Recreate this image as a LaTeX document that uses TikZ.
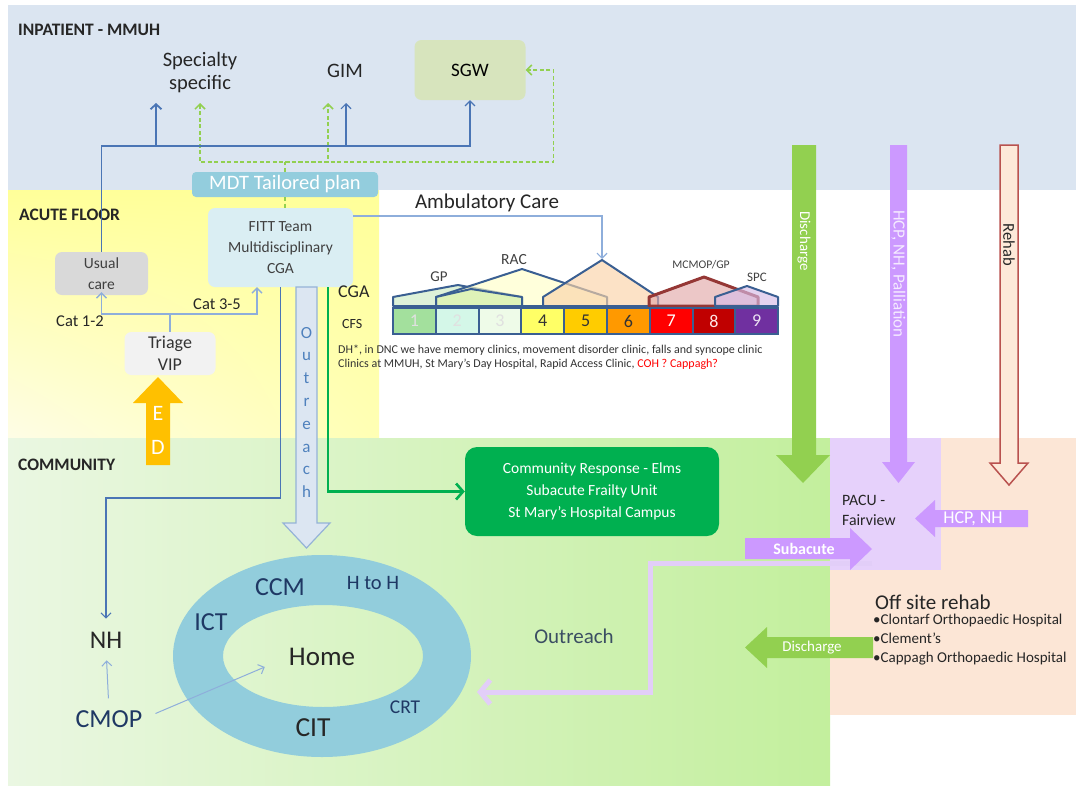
\documentclass[tikz,border=0pt]{standalone}
\usepackage{fontspec}
\setmainfont{Carlito}
\usetikzlibrary{calc, arrows.meta, shadings}

% colours of the levels and boxes
\definecolor{inpatbg}{HTML}{DBE5F1}
\definecolor{acutetop}{HTML}{FFFF99}
\definecolor{acutemid}{HTML}{FFFFB4}
\definecolor{acutepale}{HTML}{FEFDE6}
\definecolor{commleft}{HTML}{EAF7E2}
\definecolor{commright}{HTML}{C3EF9D}
\definecolor{pacubg}{HTML}{E6D1FB}
\definecolor{rehabbg}{HTML}{FCE6D6}
\definecolor{sgwfill}{HTML}{D7E4BD}
\definecolor{mdtfill}{HTML}{93CDDD}
\definecolor{fittfill}{HTML}{DAEEF3}
\definecolor{ucgrey}{HTML}{D9D9D9}
\definecolor{trifill}{HTML}{F2F2F2}
\definecolor{linkblue}{HTML}{4A75B5}
\definecolor{paleblue}{HTML}{8EAEDB}
\definecolor{dashgreen}{HTML}{92D050}
\definecolor{darkgreen}{HTML}{00B050}
\definecolor{edorange}{HTML}{FFC000}
\definecolor{lilac}{HTML}{CC99FF}
\definecolor{lilacpale}{HTML}{E2CEF8}
\definecolor{rehabred}{HTML}{B9524F}
\definecolor{rehabfill}{HTML}{FDE9D9}
\definecolor{outfill}{HTML}{DCE6F2}
\definecolor{outline}{HTML}{95B3D7}
\definecolor{outblue}{HTML}{4F81BD}
\definecolor{ringblue}{HTML}{92CDDC}
\definecolor{navy}{HTML}{1F3864}
\definecolor{slate}{HTML}{3B4E63}
\definecolor{cfsblue}{HTML}{3A5F92}
\definecolor{mcmopred}{HTML}{953735}
% clinical frailty scale
\definecolor{cfsa}{HTML}{A3E09D}
\definecolor{cfsb}{HTML}{D4F7E8}
\definecolor{cfsc}{HTML}{EEFBE8}
\definecolor{cfsd}{HTML}{FFFF66}
\definecolor{cfse}{HTML}{FFCC00}
\definecolor{cfsf}{HTML}{FF9900}
\definecolor{cfsg}{HTML}{FF0000}
\definecolor{cfsh}{HTML}{C00000}
\definecolor{cfsi}{HTML}{7030A0}
\definecolor{housegp}{HTML}{CDEBC4}
\definecolor{houserac}{HTML}{FFFFC8}
\definecolor{housegreen}{HTML}{D3F0AE}
\definecolor{houseamb}{HTML}{FAD3A8}
\definecolor{housemc}{HTML}{E2A9A9}
\definecolor{housespc}{HTML}{D6BBE6}

\newcommand{\fsz}[2]{\fontsize{#1}{#2}\selectfont}

\tikzset{
  hdr/.style={anchor=west, inner sep=0pt, font=\bfseries\fsz{17.5}{20}, text=black!85},
  lbl/.style={inner sep=0pt, text=black!85},
  rbox/.style={rounded corners=7pt, align=center, inner sep=0pt},
  cell/.style={draw=cfsblue, line width=2pt, minimum width=42.8pt, minimum height=26pt,
    inner sep=0pt, font=\fsz{18}{20}},
  house/.style={fill opacity=.65, line join=round},
  uclink/.style={draw=linkblue, line width=1.8pt, -{Straight Barb[length=5pt,width=11pt]}},
  bluelink/.style={draw=linkblue, line width=1.1pt, -{Straight Barb[length=5pt,width=10pt]}},
  palelink/.style={draw=paleblue, line width=1.3pt, -{Straight Barb[length=5pt,width=10pt]}},
  gdash/.style={draw=dashgreen, line width=1.5pt, dash pattern=on 4pt off 2.5pt},
  greenlink/.style={draw=darkgreen, line width=2.6pt, -{Straight Barb[length=7pt,width=16pt]}},
  lilaclink/.style={draw=lilacpale, line width=5pt, -{Straight Barb[length=10pt,width=24pt]}},
}

\begin{document}
\begin{tikzpicture}[x=1pt, y=-1pt, font=\fsz{14}{17}]
  \useasboundingbox (0,0) rectangle (1076,787);

  % the three levels
  \fill[inpatbg] (8,5) rectangle (1076,190);
  \shade[upper left=acutetop, upper right=acutetop, lower left=acutepale, lower right=acutemid]
    (8,190) rectangle (379,438);
  \shade[left color=commleft, right color=commright] (8,438) rectangle (830,785);
  \fill[pacubg] (830,438) rectangle (941,570);
  \fill[rehabbg] (941,438) rectangle (1076,570);
  \fill[rehabbg] (830,570) rectangle (1076,715);

  \node[hdr] (hinp) at (18,30) {INPATIENT - MMUH};
  \node[hdr] (hacu) at (19,215) {ACUTE FLOOR};
  \node[hdr] (hcom) at (18,465) {COMMUNITY};

  % inpatient wards
  \node[lbl, align=center, font=\fsz{20.5}{23}] (spec) at (200,73) {Specialty\\specific};
  \node[lbl, font=\fsz{20.5}{23}] (gim) at (345,71) {GIM};
  \node[rbox, fill=sgwfill, minimum width=111pt, minimum height=60pt, font=\fsz{19}{23}] (sgw) at (470,70) {SGW};

  \coordinate (jspec) at (156,146);
  \coordinate (tspec) at (156,103);
  \coordinate (tgim) at (346,103);
  \coordinate (gspec) at (200,103);
  \coordinate (ggim) at (328,103);
  \coordinate (jmdt) at (285,162);

  % dashed plan links
  \draw[gdash, {Straight Barb[length=5pt,width=10pt]}-{Straight Barb[length=5pt,width=10pt]}]
    (gspec) |- (ggim |- jmdt) -- (ggim);
  \draw[gdash, -{Straight Barb[length=5pt,width=10pt]}]
    (jmdt) -| ([xshift=28pt]sgw.east) -- (sgw.east);

  \node[rbox, rounded corners=4pt, fill=mdtfill, minimum width=186pt, minimum height=25pt,
    text=white, font=\fsz{20.5}{22}] (mdt) at (285,184.5) {MDT Tailored plan};
  \draw[gdash] (mdt.north) -- (jmdt);

  % acute floor
  \node[rbox, fill=fittfill, minimum width=145pt, minimum height=79pt, font=\fsz{15.5}{21},
    text=black!75] (fitt) at (280.5,247.5) {FITT Team\\Multidisciplinary\\CGA};
  \node[rbox, fill=ucgrey, minimum width=93pt, minimum height=43pt, font=\fsz{15.5}{21},
    text=black!75] (uc) at (101.5,273.5) {Usual\\care};
  \node[rbox, fill=trifill, minimum width=91pt, minimum height=43pt, font=\fsz{18}{22},
    text=black!80] (tri) at (170,353.5) {Triage\\VIP};
  \draw[gdash] (mdt.south) -- (mdt.south |- fitt.north);

  \draw[uclink] (uc.north) |- (jspec) -- (tspec);
  \draw[bluelink] (jspec) -| (tgim);
  \draw[bluelink] (jspec) -| (sgw.south);

  \coordinate (jtri) at (170,314);
  \draw[palelink, shorten >=-3pt] (tri.north) -- (jtri) -| (uc.south);
  \draw[palelink] (jtri) -| ([xshift=-23.5pt]fitt.south);
  \node[lbl, font=\fsz{16.5}{18}] (cat12) at (80,321) {Cat 1-2};
  \node[lbl, font=\fsz{16.5}{18}] (cat35) at (217,304) {Cat 3-5};

  % ED arrow
  \fill[edorange] (146,465) -- (146,403) -- (133,403) -- (158,377) -- (183,403) -- (170,403)
    -- (170,465) -- cycle;
  \node[text=white, font=\fsz{22}{24}] (ede) at (158,413) {E};
  \node[text=white, font=\fsz{22}{24}] (edd) at (158,447) {D};

  % ambulatory care
  \coordinate (hpeak) at (602,259);
  \node[lbl, font=\fsz{21}{23}] (amb) at (487,203) {Ambulatory Care};
  \draw[palelink, line width=1.2pt] ([yshift=31.5pt]fitt.east) -| (hpeak);

  \node[lbl, anchor=west, font=\fsz{18}{20}] (cga) at (338,292) {CGA};
  \node[lbl, anchor=west, font=\fsz{14}{16}] (cfs) at (342,324) {CFS};

  % houses over the frailty scale
  \foreach \l/\r/\px/\py/\hf/\hd/\lw in {393/522/458/285/housegp/cfsblue/2,
      436/607/522/269/houserac/cfsblue/2, 436/522/471/289/housegreen/cfsblue/2,
      543/658/602/260/houseamb/cfsblue/2, 649/758/704/277/housemc/mcmopred/3,
      715/778/747/286/housespc/cfsblue/2}
    \filldraw[house, fill=\hf, draw=\hd, line width=\lw pt]
      (\l,306) -- (\l,297) -- (\px,\py) -- (\r,297) -- (\r,306) -- cycle;

  \foreach \cf/\ct [count=\i] in {cfsa/black!12, cfsb/black!12, cfsc/black!12, cfsd/black!80,
      cfse/black!80, cfsf/black!80, cfsg/white, cfsh/white!90!red, cfsi/white!85!cfsi}
    \node[cell, fill=\cf, text=\ct] (cell\i) at ({393+42.8*(\i-0.5)},321) {\i};

  \node[lbl, font=\fsz{15}{16}, text=black!75] (lgp) at (439,277) {GP};
  \node[lbl, font=\fsz{15.5}{16}, text=black!75] (lrac) at (514,260) {RAC};
  \node[lbl, font=\fsz{11.7}{13}, text=black!75] (lmc) at (701,265) {MCMOP/GP};
  \node[lbl, font=\fsz{13}{14}, text=black!75] (lspc) at (757,277) {SPC};

  \node[lbl, anchor=west, font=\fsz{12}{14}, text=black!80] (note1) at (338,350)
    {DH*, in DNC we have memory  clinics, movement disorder clinic, falls and syncope clinic};
  \node[lbl, anchor=west, font=\fsz{12}{14}, text=black!80] (note2) at (338,364)
    {Clinics at MMUH, St Mary's Day Hospital, Rapid Access Clinic, \textcolor{red}{COH ? Cappagh?}};

  % outreach into the community
  \filldraw[fill=outfill, draw=outline, line width=1.2pt] (296,287) -- (317,287) -- (317,523)
    -- (330,523) -- (306.5,548) -- (283,523) -- (296,523) -- cycle;
  \foreach \ch [count=\i] in {O,u,t,r,e,a,c,h}
    \node[anchor=base, inner sep=0pt, text=outblue, font=\fsz{17}{18}] (out\i)
      at (306.5,{338+22.8*(\i-1)}) {\ch};

  % community
  \node[rbox, rounded corners=12pt, fill=darkgreen, minimum width=254pt, minimum height=89pt,
    text=white, font=\fsz{15.5}{22}] (cr) at (592,491.5)
    {Community Response - Elms\\Subacute Frailty Unit\\St Mary's Hospital Campus};
  \draw[greenlink] ([xshift=47.5pt]fitt.south) |- (cr.west);

  \fill[ringblue, even odd rule] (322,656) ellipse [x radius=149pt, y radius=101pt]
    (323,656) ellipse [x radius=100pt, y radius=51pt];
  \node[lbl, text=navy, font=\fsz{26}{28}] (ccm) at (280,587) {CCM};
  \node[lbl, text=navy, font=\fsz{20.5}{22}] (hth) at (373,583) {H to H};
  \node[lbl, text=navy, font=\fsz{26}{28}] (ict) at (211,622) {ICT};
  \node[lbl, font=\fsz{27}{30}] (home) at (322,657) {Home};
  \node[lbl, text=navy, font=\fsz{19.5}{22}] (crt) at (405,707) {CRT};
  \node[lbl, font=\fsz{27.5}{30}] (cit) at (313,728) {CIT};
  \node[lbl, font=\fsz{25.5}{28}] (nh) at (106,640) {NH};
  \node[lbl, text=navy, font=\fsz{26}{28}] (cmop) at (109,719) {CMOP};

  \coordinate (jnh) at (106,498);
  \draw[bluelink, shorten >=13pt] (fitt.south) |- (jnh) -- (nh.north);
  \draw[palelink, line width=1pt, shorten <=12pt, shorten >=12pt] (cmop.north) -- (nh.south);
  \draw[palelink, line width=1pt, shorten <=14pt] (cmop.east) -- ([xshift=-24pt, yshift=-10pt]home.west);

  \node[lbl, text=slate, font=\fsz{21}{23}] (outr) at (574,636) {Outreach};
  \coordinate (subsrc) at (872,563);
  \coordinate (jout) at (650,692);
  \coordinate (touthome) at (477,692);
  \draw[lilaclink] (subsrc) -| (jout) -- (touthome);

  % flows from the right
  \fill[dashgreen] (792,145) -- (816,145) -- (816,455) -- (830,455) -- (803,483) -- (776,455)
    -- (792,455) -- cycle;
  \fill[lilac] (890,145) -- (907,145) -- (907,462) -- (915,462) -- (898.5,483) -- (882,462)
    -- (890,462) -- cycle;
  \filldraw[fill=rehabfill, draw=rehabred, line width=1.5pt] (1000,145) -- (1018,145) -- (1018,463)
    -- (1028,463) -- (1009,485) -- (990,463) -- (1000,463) -- cycle;
  \node[rotate=-90, inner sep=0pt, text=white, font=\fsz{15}{17}] (tdis) at (804,241) {Discharge};
  \node[rotate=-90, inner sep=0pt, text=white!80!lilac, font=\fsz{17}{19}] (thcp) at (898.5,274) {HCP, NH, Palliation};
  \node[rotate=-90, inner sep=0pt, text=black!85, font=\fsz{16.5}{18}] (treh) at (1009,245) {Rehab};

  \fill[lilac] (1028,510) -- (935,510) -- (935,500) -- (915,518.5) -- (935,537) -- (935,527)
    -- (1028,527) -- cycle;
  \node[lbl, text=white, font=\fsz{18}{20}] (thn) at (973,518.5) {HCP, NH};
  \fill[lilac] (745,538) -- (850,538) -- (850,528) -- (872,549) -- (850,570) -- (850,559)
    -- (745,559) -- cycle;
  \node[lbl, text=white, font=\bfseries\fsz{16}{18}] (tsub) at (804,548.5) {Subacute};
  \fill[dashgreen] (873,637) -- (767,637) -- (767,627) -- (745,647.5) -- (767,668) -- (767,658)
    -- (873,658) -- cycle;
  \node[lbl, text=white, font=\fsz{15}{17}] (tdis2) at (812,648) {Discharge};

  \node[lbl, anchor=west, align=left, font=\fsz{15.8}{20}] (pacu) at (842,510) {PACU -\\Fairview};
  \node[lbl, anchor=west, font=\fsz{21}{23}] (offs) at (875,602) {Off site rehab};
  \node[lbl, anchor=north west, align=left, font=\fsz{15}{19}] (rehabs) at (873,614)
    {\textbullet Clontarf  Orthopaedic Hospital\\\textbullet Clement's\\\textbullet Cappagh Orthopaedic Hospital};
\end{tikzpicture}
\end{document}
